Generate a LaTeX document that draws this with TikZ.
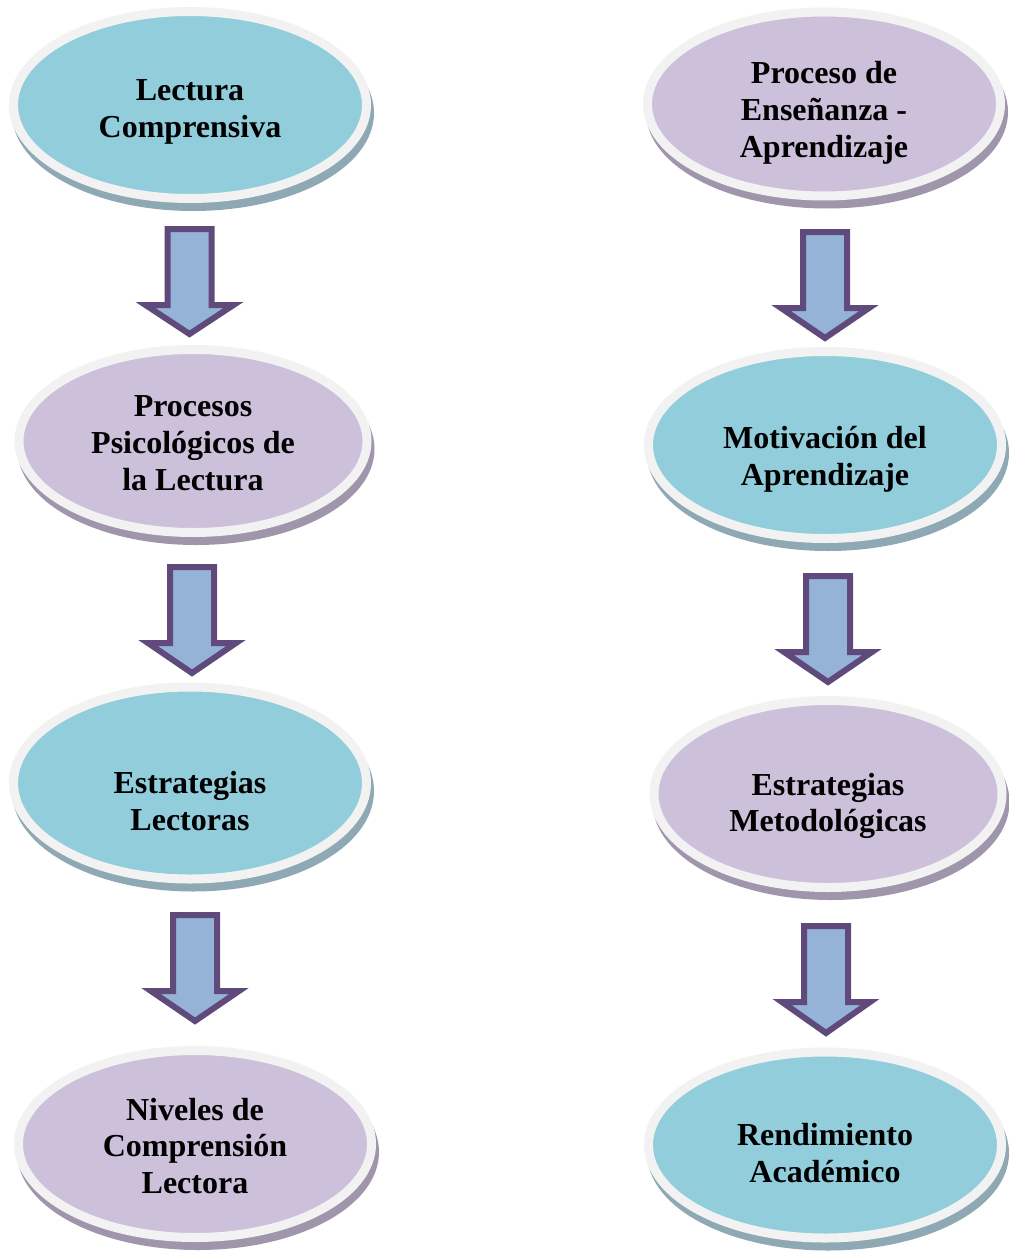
\documentclass[tikz,border=0pt]{standalone}
\usepackage{fontspec}
\setmainfont{Liberation Serif}
\usetikzlibrary{shapes.geometric}
\definecolor{cblue}{HTML}{92CDDC}
\definecolor{clav}{HTML}{CCC0DA}
\definecolor{cring}{HTML}{F2F2F2}
\definecolor{sblue}{HTML}{8EA9B4}
\definecolor{slav}{HTML}{A096AC}
\definecolor{afill}{HTML}{95B3D7}
\definecolor{aline}{HTML}{604A7B}
\tikzset{
  ellbase/.style={ellipse, inner sep=0pt, minimum width=264.75pt, minimum height=140.25pt, draw=cring, line width=6.75pt},
  ellblue/.style={ellbase, fill=cblue, preaction={draw=sblue, fill=sblue, line width=6.75pt, transform canvas={xshift=2.25pt,yshift=-6pt}}},
  elllav/.style={ellbase, fill=clav, preaction={draw=slav, fill=slav, line width=6.75pt, transform canvas={xshift=2.25pt,yshift=-6pt}}},
  lbl/.style={font=\bfseries\fontsize{24}{27.6}\selectfont, align=center, inner sep=0pt},
  barrow/.style={draw=aline, fill=afill, line width=4.5pt, line join=miter}
}
\newcommand\myarr[3]{%
  \draw[barrow] (#1-22,#2+3) -- (#1+22,#2+3) -- (#1+22,#2+79) -- (#1+44,#2+79)
    -- (#1,#3-4) -- (#1-44,#2+79) -- (#1-22,#2+79) -- cycle;}
\begin{document}
\begin{tikzpicture}[x=0.75pt,y=-0.75pt]
\useasboundingbox[fill=white] (0,0) rectangle (1009,1252);
% left column
\node[ellblue] (e1) at (190,105) {};
\node[elllav, minimum width=261pt, minimum height=137.25pt] (e2) at (193,441) {};
\node[ellblue, minimum height=144pt] (e3) at (190,783) {};
\node[elllav] (e4) at (195,1144) {};
% right column
\node[elllav, minimum height=138pt] (f1) at (824,104) {};
\node[ellblue] (f2) at (825,445) {};
\node[elllav, minimum width=261pt] (f3) at (828,794) {};
\node[ellblue, minimum height=139.5pt] (f4) at (825,1145) {};
% labels
\node[lbl] (t1) at (190,112) {Lectura\\Comprensiva};
\node[lbl] (t2) at (193,443) {Procesos\\Psicológicos de\\la Lectura};
\node[lbl] (t3) at (190,801) {Estrategias\\Lectoras};
\node[lbl] (t4) at (195,1146) {Niveles de\\Comprensión\\Lectora};
\node[lbl] (u1) at (824,113) {Proceso de\\Enseñanza -\\Aprendizaje};
\node[lbl] (u2) at (825,459) {Motivación del\\Aprendizaje};
\node[lbl] (u3) at (828,806) {Estrategias\\Metodológicas};
\node[lbl] (u4) at (825,1153) {Rendimiento\\Académico};
% arrows
\myarr{189.5}{226}{338}
\myarr{192}{564}{677}
\myarr{195}{912}{1025}
\myarr{825}{229}{342}
\myarr{828}{573}{686}
\myarr{826}{923}{1037}
\end{tikzpicture}
\end{document}
